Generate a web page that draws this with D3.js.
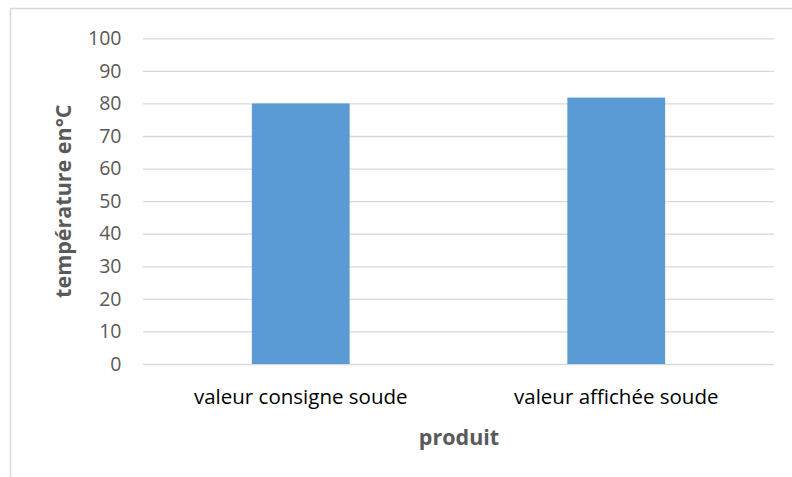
<!DOCTYPE html>
<html>
<head>
<meta charset="utf-8">
<script src="https://cdn.jsdelivr.net/npm/d3@7"></script>
<style>
  html, body { margin: 0; padding: 0; background: #ffffff; }
  svg { display: block; }
  text { font-family: "Open Sans", "Noto Sans", sans-serif; }
</style>
</head>
<body>
<svg id="chart" width="792" height="477"></svg>
<script>
// Temperature readings for the soda bath
const categories = ["valeur consigne soude", "valeur affichée soude"];
const temperatures = [80, 81.8];
const yTicks = [0, 10, 20, 30, 40, 50, 60, 70, 80, 90, 100];
const yTitle = "température en°C";
const xTitle = "produit";

const W = 792, H = 477;
const plot = { left: 143, right: 774, top: 38.3, bottom: 364 };

const svg = d3.select("#chart");

// chart frame
svg.append("rect")
  .attr("x", 10.5).attr("y", 8.5)
  .attr("width", W + 10).attr("height", H + 10)
  .attr("fill", "#ffffff")
  .attr("stroke", "#d9d9d9").attr("stroke-width", 1.5);

const x = d3.scaleBand()
  .domain(categories)
  .range([plot.left, plot.right])
  .paddingInner(0.69).paddingOuter(0.345);

const y = d3.scaleLinear()
  .domain([0, 100])
  .range([plot.bottom, plot.top]);

// horizontal gridlines and tick labels
const yAxis = d3.axisLeft(y)
  .tickValues(yTicks)
  .tickSize(-(plot.right - plot.left))
  .tickPadding(21.5)
  .tickFormat(d3.format("d"));

const gy = svg.append("g")
  .attr("transform", `translate(${plot.left},0)`)
  .call(yAxis);
gy.select(".domain").remove();
gy.selectAll(".tick line").attr("stroke", "#d9d9d9").attr("stroke-width", 1.3);
gy.selectAll(".tick text")
  .attr("fill", "#595959")
  .style("font-size", "19.5px")
  .style("font-family", "'Open Sans', sans-serif");

// bars
svg.append("g")
  .selectAll("rect")
  .data(categories)
  .join("rect")
  .attr("x", d => x(d))
  .attr("width", x.bandwidth())
  .attr("y", (d, i) => y(temperatures[i]))
  .attr("height", (d, i) => y(0) - y(temperatures[i]))
  .attr("fill", "#5b9bd5");

// category labels
const xAxis = d3.axisBottom(x).tickSize(0).tickPadding(25.4);
const gx = svg.append("g")
  .attr("transform", `translate(0,${plot.bottom})`)
  .call(xAxis);
gx.select(".domain").remove();
gx.selectAll(".tick text")
  .attr("fill", "#000000")
  .style("font-size", "20.5px")
  .style("font-family", "'Open Sans', sans-serif");

// axis titles
svg.append("text")
  .attr("x", 459)
  .attr("y", 445)
  .attr("text-anchor", "middle")
  .attr("fill", "#595959")
  .style("font-size", "21.5px")
  .style("font-weight", "bold")
  .text(xTitle);

svg.append("text")
  .attr("transform", `translate(71,${(plot.top + plot.bottom) / 2}) rotate(-90)`)
  .attr("text-anchor", "middle")
  .attr("fill", "#595959")
  .style("font-size", "21.5px")
  .style("font-weight", "bold")
  .text(yTitle);
</script>
</body>
</html>
